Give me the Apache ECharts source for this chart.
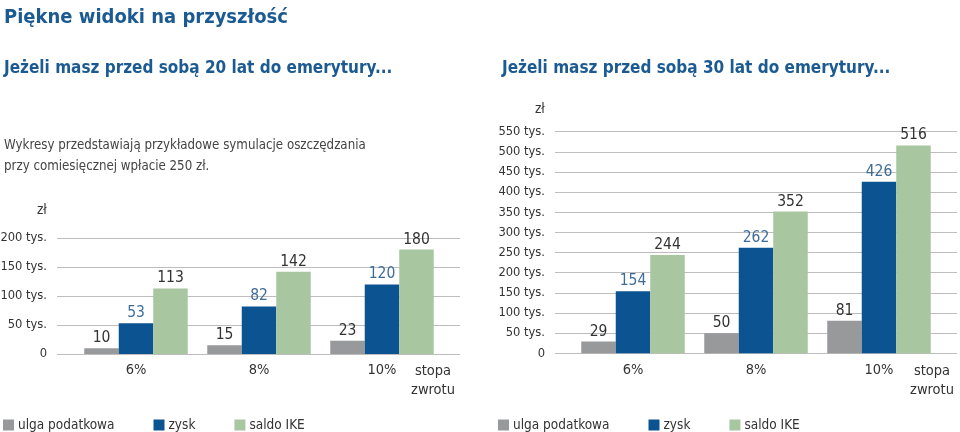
<!DOCTYPE html>
<html><head><meta charset="utf-8">
<script src="https://cdn.jsdelivr.net/npm/echarts@6/dist/echarts.min.js"></script>
<style>html,body{margin:0;padding:0;background:#fff}#c{width:960px;height:432px}</style>
</head><body><div id="c"></div>
<script>
const categories = ['6%', '8%', '10%'];
const seriesNames = ['ulga podatkowa', 'zysk', 'saldo IKE'];
// 20 lat (tys. zł)
const left_ulga = [10, 15, 23];
const left_zysk = [53, 82, 120];
const left_saldo = [113, 142, 180];
// 30 lat (tys. zł)
const right_ulga = [29, 50, 81];
const right_zysk = [154, 262, 426];
const right_saldo = [244, 352, 516];
const leftTicks = ['0', '50 tys.', '100 tys.', '150 tys.', '200 tys.'];
const rightTicks = ['0', '50 tys.', '100 tys.', '150 tys.', '200 tys.', '250 tys.', '300 tys.', '350 tys.', '400 tys.', '450 tys.', '500 tys.', '550 tys.'];

const FONT = "'DejaVu Sans Condensed','Liberation Sans Narrow',sans-serif";
const COLORS = ['#98999b', '#0b5391', '#a8c6a0'];
const LABEL_COLORS = ['#333333', '#3d6c98', '#333333'];
const TXT = '#333333';

const chart = echarts.init(document.getElementById('c'), null, {renderer: 'canvas'});

function lineGrid(i, ticks, max) {
  return {
    y: {gridIndex: i, type: 'value', min: 0, max: max, interval: 50,
      axisLine: {show: false}, axisTick: {show: false},
      axisLabel: {fontFamily: FONT, fontSize: 12.8, color: TXT, margin: 10,
        formatter: v => ticks[Math.round(v / 50)]},
      splitLine: {lineStyle: {color: '#bdbdbd', width: 1}}},
    x: {gridIndex: i, type: 'category', data: categories, show: false}
  };
}
function barGrid(i, max) {
  return {
    y: {gridIndex: i, type: 'value', min: 0, max: max, interval: 50, show: false, splitLine: {show: false}},
    x: {gridIndex: i, type: 'category', data: categories,
      axisLine: {show: false}, axisTick: {show: false},
      axisLabel: {fontFamily: FONT, fontSize: 14.5, color: TXT, margin: 9}}
  };
}
const g0 = lineGrid(0, leftTicks, 200), g1 = barGrid(1, 200);
const g2 = lineGrid(2, rightTicks, 550), g3 = barGrid(3, 550);

function bars(axisIdx, arrays) {
  return arrays.map((d, k) => ({
    type: 'bar', name: seriesNames[k], xAxisIndex: axisIdx, yAxisIndex: axisIdx,
    data: d, barWidth: 34.5, barGap: '0%', itemStyle: {color: COLORS[k]},
    label: {show: true, position: 'top', distance: 2, fontFamily: FONT, fontSize: 15.5, color: LABEL_COLORS[k]},
    silent: true, animation: false
  }));
}

const legendCommon = {
  data: seriesNames, icon: 'rect', itemWidth: 11, itemHeight: 11, itemGap: 39,
  textStyle: {fontFamily: FONT, fontSize: 13.5, color: TXT, padding: [0, 0, 0, -1]}, top: 413
};

chart.setOption({
  animation: false,
  title: [
    {text: 'Piękne widoki na przyszłość', left: -1, top: 3,
      textStyle: {fontFamily: FONT, fontWeight: 'bold', fontSize: 20, color: '#1c5a92'}},
    {text: 'Jeżeli masz przed sobą 20 lat do emerytury...', left: -1, top: 55,
      textStyle: {fontFamily: FONT, fontWeight: 'bold', fontSize: 17, color: '#1c5a92'}},
    {text: 'Jeżeli masz przed sobą 30 lat do emerytury...', left: 497, top: 55,
      textStyle: {fontFamily: FONT, fontWeight: 'bold', fontSize: 17, color: '#1c5a92'}},
    {text: 'Wykresy przedstawiają przykładowe symulacje oszczędzania\nprzy comiesięcznej wpłacie 250 zł.', left: -1, top: 130,
      textStyle: {fontFamily: FONT, fontWeight: 'normal', fontSize: 13.2, lineHeight: 21, color: '#444444'}}
  ],
  legend: [
    Object.assign({left: -2}, legendCommon),
    Object.assign({left: 493}, legendCommon)
  ],
  grid: [
    {left: 57, right: 500, top: 238, bottom: 78, outerBoundsMode: 'none'},
    {left: 74.5, width: 369, top: 238, bottom: 78, outerBoundsMode: 'none'},
    {left: 555, right: 3, top: 131.7, bottom: 78.7, outerBoundsMode: 'none'},
    {left: 571.5, width: 369, top: 131.7, bottom: 78.7, outerBoundsMode: 'none'}
  ],
  xAxis: [g0.x, g1.x, g2.x, g3.x],
  yAxis: [g0.y, g1.y, g2.y, g3.y],
  series: [].concat(bars(1, [left_ulga, left_zysk, left_saldo]), bars(3, [right_ulga, right_zysk, right_saldo])),
  graphic: [
    {type: 'text', left: 37, top: 203, style: {text: 'zł', font: '13.5px ' + FONT, fill: TXT}},
    {type: 'text', left: 535, top: 102, style: {text: 'zł', font: '13.5px ' + FONT, fill: TXT}},
    {type: 'text', x: 433, y: 362, style: {text: 'stopa\nzwrotu', font: '14.5px ' + FONT, fill: TXT, align: 'center', lineHeight: 19}},
    {type: 'text', x: 932, y: 362, style: {text: 'stopa\nzwrotu', font: '14.5px ' + FONT, fill: TXT, align: 'center', lineHeight: 19}}
  ]
});
</script></body></html>
